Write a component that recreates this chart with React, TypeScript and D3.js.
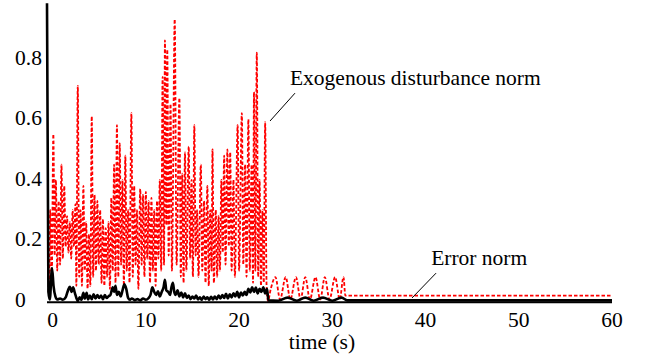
import React from "react";
import * as d3 from "d3";

// time (s), exogenous disturbance norm
const disturbance: [number, number][] = [
  [-0.5, 0.33], [-0.4, 0.02], [-0.25, 0.3], [-0.1, 0.05], [0.08, 0.55], [0.22, 0.15], [0.35, 0.4], [0.5, 0.1],
  [0.65, 0.33], [0.8, 0.12], [0.95, 0.45], [1.1, 0.14], [1.25, 0.38], [1.4, 0.18], [1.55, 0.28], [1.7, 0.16],
  [1.85, 0.26], [2.0, 0.14], [2.15, 0.3], [2.3, 0.18], [2.45, 0.32], [2.55, 0.05], [2.7, 0.71], [2.85, 0.08],
  [3.0, 0.3], [3.15, 0.05], [3.3, 0.38], [3.45, 0.1], [3.6, 0.26], [3.75, 0.04], [3.9, 0.22], [4.05, 0.05],
  [4.2, 0.61], [4.35, 0.08], [4.5, 0.35], [4.65, 0.1], [4.8, 0.33], [4.95, 0.12], [5.1, 0.3], [5.25, 0.06],
  [5.4, 0.27], [5.55, 0.05], [5.7, 0.24], [5.85, 0.08], [6.0, 0.26], [6.15, 0.04], [6.3, 0.34], [6.45, 0.1],
  [6.6, 0.45], [6.75, 0.06], [6.9, 0.58], [7.05, 0.08], [7.2, 0.52], [7.35, 0.12], [7.5, 0.4], [7.65, 0.05],
  [7.8, 0.48], [7.95, 0.1], [8.1, 0.3], [8.25, 0.06], [8.45, 0.62], [8.6, 0.08], [8.75, 0.38], [8.9, 0.12],
  [9.05, 0.3], [9.2, 0.04], [9.4, 0.37], [9.55, 0.12], [9.7, 0.35], [9.85, 0.08], [10.0, 0.36], [10.15, 0.14],
  [10.3, 0.33], [10.45, 0.06], [10.6, 0.34], [10.75, 0.1], [10.9, 0.3], [11.05, 0.05], [11.2, 0.33], [11.35, 0.14],
  [11.5, 0.4], [11.65, 0.1], [11.8, 0.74], [11.95, 0.12], [12.05, 0.86], [12.2, 0.25], [12.3, 0.83], [12.45, 0.15],
  [12.65, 0.65], [12.8, 0.1], [13.1, 0.93], [13.3, 0.12], [13.6, 0.67], [13.75, 0.08], [13.9, 0.42], [14.05, 0.06],
  [14.2, 0.49], [14.35, 0.1], [14.6, 0.51], [14.75, 0.14], [14.9, 0.4], [15.05, 0.08], [15.2, 0.58], [15.35, 0.15],
  [15.5, 0.3], [15.65, 0.08], [15.9, 0.45], [16.05, 0.1], [16.25, 0.33], [16.4, 0.06], [16.6, 0.38], [16.75, 0.05],
  [16.9, 0.3], [17.05, 0.1], [17.15, 0.5], [17.3, 0.06], [17.5, 0.3], [17.65, 0.08], [17.8, 0.28], [17.95, 0.1],
  [18.1, 0.4], [18.25, 0.16], [18.4, 0.48], [18.55, 0.12], [18.75, 0.5], [18.9, 0.18], [19.05, 0.49], [19.2, 0.1],
  [19.4, 0.4], [19.55, 0.08], [19.85, 0.58], [20.0, 0.1], [20.3, 0.62], [20.45, 0.12], [20.65, 0.45], [20.8, 0.08],
  [21.0, 0.6], [21.15, 0.1], [21.35, 0.45], [21.5, 0.06], [21.6, 0.69], [21.75, 0.1], [21.9, 0.82], [22.05, 0.08],
  [22.2, 0.4], [22.35, 0.05], [22.5, 0.3], [22.65, 0.06], [22.8, 0.59], [22.95, 0.05], [23.1, 0.0],
  [23.4, 0.04], [23.9, 0.079], [24.4, 0.005], [25.0, 0.079], [25.5, 0.005], [26.1, 0.079], [26.6, 0.005],
  [27.1, 0.079], [27.6, 0.005], [28.2, 0.079], [28.7, 0.005], [29.2, 0.079], [29.7, 0.005], [30.3, 0.079],
  [30.8, 0.005], [31.2, 0.079], [31.4, 0.0175], [60, 0.0175],
];

// time (s), error norm
const errorNorm: [number, number][] = [
  [-0.6, 0.983], [-0.45, 0.03], [-0.3, 0.005], [-0.06, 0.109], [0.1, 0.05], [0.3, 0.015], [0.5, 0.005], [0.8, 0.008],
  [1.1, 0.004], [1.4, 0.012], [1.65, 0.035], [1.85, 0.047], [2.05, 0.03], [2.2, 0.045], [2.4, 0.025], [2.55, 0.01],
  [2.7, 0.0], [2.9, 0.012], [3.1, 0.004], [3.3, 0.027], [3.45, 0.008], [3.65, 0.027], [3.8, 0.005], [4.0, 0.018],
  [4.2, 0.006], [4.4, 0.022], [4.6, 0.008], [4.8, 0.02], [5.0, 0.01], [5.2, 0.018], [5.4, 0.006], [5.6, 0.02],
  [5.8, 0.01], [6.0, 0.016], [6.2, 0.02], [6.45, 0.045], [6.6, 0.03], [6.75, 0.05], [6.9, 0.02], [7.1, 0.03],
  [7.3, 0.015], [7.5, 0.035], [7.7, 0.055], [7.9, 0.04], [8.1, 0.01], [8.3, 0.004], [8.5, 0.008], [8.8, 0.003],
  [9.1, 0.006], [9.4, 0.002], [9.7, 0.008], [10.0, 0.004], [10.3, 0.01], [10.5, 0.02], [10.7, 0.045], [10.9, 0.03],
  [11.1, 0.02], [11.3, 0.032], [11.5, 0.015], [11.7, 0.03], [11.9, 0.045], [12.05, 0.07], [12.2, 0.035], [12.4, 0.03],
  [12.6, 0.02], [12.75, 0.045], [12.9, 0.06], [13.05, 0.03], [13.2, 0.02], [13.4, 0.035], [13.6, 0.015], [13.8, 0.028],
  [14.0, 0.012], [14.2, 0.025], [14.4, 0.01], [14.6, 0.018], [14.8, 0.006], [15.0, 0.015], [15.2, 0.008], [15.4, 0.018],
  [15.6, 0.005], [15.8, 0.012], [16.0, 0.004], [16.2, 0.015], [16.4, 0.006], [16.6, 0.012], [16.8, 0.004], [17.0, 0.014],
  [17.2, 0.005], [17.4, 0.015], [17.6, 0.006], [17.8, 0.018], [18.0, 0.008], [18.2, 0.02], [18.4, 0.01], [18.6, 0.024],
  [18.8, 0.008], [19.0, 0.022], [19.2, 0.012], [19.4, 0.025], [19.6, 0.015], [19.8, 0.03], [20.0, 0.012], [20.2, 0.028],
  [20.4, 0.018], [20.6, 0.03], [20.8, 0.02], [21.0, 0.04], [21.2, 0.028], [21.4, 0.045], [21.6, 0.03], [21.8, 0.044],
  [22.0, 0.025], [22.2, 0.04], [22.4, 0.03], [22.6, 0.045], [22.8, 0.025], [23.0, 0.04], [23.15, 0.002],
  [24.2, 0.001], [25.2, 0.011], [26.2, 0.001], [27.1, 0.011], [28.0, 0.001], [29.0, 0.011], [30.0, 0.001],
  [31.0, 0.011], [31.6, 0.002], [60, 0.002],
];

const xTicks = [0, 10, 20, 30, 40, 50, 60];
const yTicks = [0, 0.2, 0.4, 0.6, 0.8];
const yTickLabels = ["0", "0.2", "0.4", "0.6", "0.8"];

// annotation anchors in data coordinates
const exoLabel = { text: "Exogenous disturbance norm", t: 25.46, v: 0.713, from: [26.0, 0.686], to: [23.32, 0.594] };
const errLabel = { text: "Error norm", t: 40.6, v: 0.119, from: [41.13, 0.092], to: [38.55, 0.0099] };

const W = 647;
const H = 360;
const FONT = '"Liberation Serif", "Times New Roman", Times, "DejaVu Serif", serif';
const textStyle = { fontFamily: FONT, fontSize: "21.5px" };

export default function App() {
  const x = d3.scaleLinear().domain([-0.6, 60]).range([47, 612]);
  const y = d3.scaleLinear().domain([-0.004, 1]).range([302.2, -2]);

  const line = d3
    .line<[number, number]>()
    .x((d) => x(d[0]))
    .y((d) => y(d[1]))
    .curve(d3.curveMonotoneX);

  return (
    <svg width={W} height={H} style={{ position: "absolute", left: 0, top: 0, background: "#fff" }}>
      <path d={line(disturbance) || ""} fill="none" stroke="#ff0000" strokeWidth={1.8} strokeDasharray="3.5,2" />
      <path d={line(errorNorm) || ""} fill="none" stroke="#000" strokeWidth={2.6} strokeLinejoin="round" />
      <line x1={x(-0.6)} x2={x(60)} y1={y(-0.004)} y2={y(-0.004)} stroke="#000" strokeWidth={2} />

      {xTicks.map((t) => (
        <text key={t} x={x(t)} y={326.5} textAnchor="middle" style={textStyle} fill="#000">
          {t}
        </text>
      ))}
      {yTicks.map((v, i) => (
        <text key={v} x={15} y={y(v) + 6} textAnchor="start" style={textStyle} fill="#000">
          {yTickLabels[i]}
        </text>
      ))}
      <text x={322} y={349} textAnchor="middle" style={textStyle} fill="#000">
        time (s)
      </text>

      <text x={x(exoLabel.t)} y={y(exoLabel.v)} style={textStyle} fill="#000">
        {exoLabel.text}
      </text>
      <line
        x1={x(exoLabel.from[0])}
        y1={y(exoLabel.from[1])}
        x2={x(exoLabel.to[0])}
        y2={y(exoLabel.to[1])}
        stroke="#000"
        strokeWidth={1}
      />
      <text x={x(errLabel.t)} y={y(errLabel.v)} style={textStyle} fill="#000">
        {errLabel.text}
      </text>
      <line
        x1={x(errLabel.from[0])}
        y1={y(errLabel.from[1])}
        x2={x(errLabel.to[0])}
        y2={y(errLabel.to[1])}
        stroke="#000"
        strokeWidth={1}
      />
    </svg>
  );
}
